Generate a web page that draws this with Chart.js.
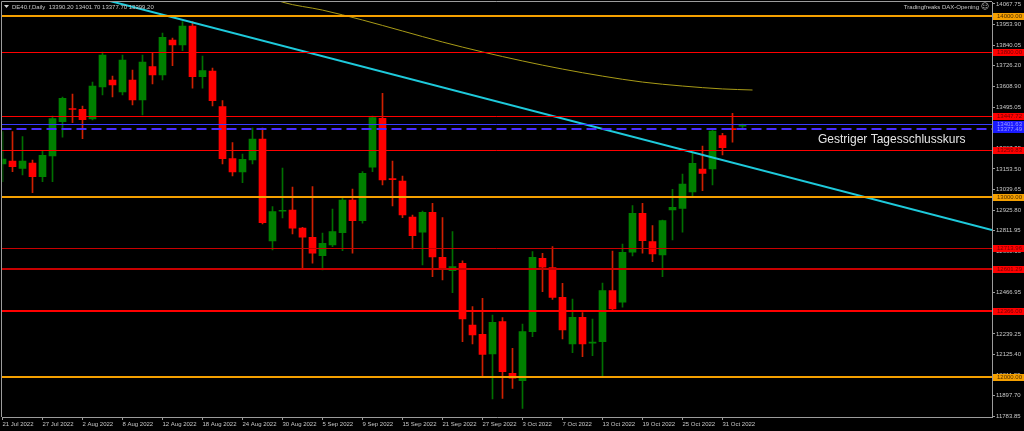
<!DOCTYPE html>
<html>
<head>
<meta charset="utf-8">
<title>DE40.f Daily</title>
<script src="https://cdn.jsdelivr.net/npm/chart.js@4.4.1/dist/chart.umd.min.js"></script>
<style>
  html, body { margin: 0; padding: 0; background: #000; }
  canvas { display: block; }
</style>
</head>
<body>
<canvas id="chart" width="1024" height="431"></canvas>
<script>
"use strict";

// daily candles, 21 Jul 2022 .. 2 Nov 2022 (index = trading day)
const opens = [13180.9, 13197.5, 13157.0, 13186.4, 13110.5, 13225.2, 13415.4, 13485.0, 13484.1, 13430.3,
  13607.7, 13646.5, 13580.0, 13646.5, 13535.6, 13720.2, 13674.2, 13868.2, 13840.5, 13945.8,
  13664.8, 13696.4, 13498.5, 13210.3, 13136.5, 13203.0, 13319.4, 12754.1, 12919.0, 12925.9,
  12826.1, 12774.6, 12672.6, 12731.9, 12800.1, 12981.3, 12866.6, 13162.6, 13434.2, 13098.0,
  13086.7, 12887.1, 12802.3, 12913.2, 12663.7, 12589.4, 12630.5, 12288.5, 12236.8, 12127.7,
  12306.8, 12020.7, 11979.7, 12251.4, 12658.2, 12606.1, 12442.0, 12183.2, 12331.1, 12188.0,
  12195.9, 12478.6, 12414.3, 12691.5, 12907.6, 12750.2, 12676.5, 12925.9, 12935.3, 13025.7,
  13153.2, 13153.2, 13337.7, 13375.0, 13390.2];
const highs = [13359.9, 13359.9, 13332.2, 13203.0, 13252.9, 13446.9, 13552.2, 13568.9, 13502.4, 13635.4,
  13801.7, 13668.6, 13785.0, 13701.9, 13785.0, 13796.2, 13907.0, 13879.3, 13969.6, 13969.6,
  13779.5, 13713.0, 13531.7, 13299.0, 13236.3, 13380.4, 13380.4, 12944.2, 13158.7, 13053.4,
  12830.0, 13055.1, 12798.4, 12931.4, 12992.4, 13042.3, 13138.2, 13446.9, 13572.8, 13197.5,
  13114.4, 12898.2, 12920.4, 12963.0, 12883.2, 12805.6, 12644.8, 12389.9, 12436.5, 12343.9,
  12328.9, 12159.3, 12294.0, 12694.8, 12685.9, 12722.5, 12519.6, 12432.6, 12356.6, 12321.7,
  12521.3, 12698.6, 12737.4, 12949.7, 12963.0, 12838.9, 12870.5, 13040.6, 13125.4, 13240.2,
  13280.6, 13373.2, 13351.0, 13461.9, 13401.7];
const lows = [13082.8, 13138.2, 13119.9, 13021.8, 13082.8, 13082.8, 13328.9, 13409.8, 13321.1, 13425.0,
  13563.3, 13552.2, 13563.3, 13507.9, 13452.5, 13624.3, 13646.5, 13725.8, 13808.9, 13600.5,
  13600.5, 13502.4, 13180.9, 13114.4, 13077.2, 13180.9, 12848.3, 12704.2, 12881.6, 12792.9,
  12604.4, 12630.5, 12593.3, 12722.5, 12700.3, 12685.9, 12852.2, 13138.2, 13064.5, 12948.0,
  12883.2, 12709.7, 12621.0, 12556.2, 12537.9, 12467.5, 12195.9, 12183.2, 12001.9, 11878.3,
  11882.1, 11937.6, 11826.7, 12223.6, 12473.0, 12430.9, 12210.9, 12134.9, 12112.7, 12118.2,
  12001.9, 12371.6, 12386.6, 12670.9, 12685.9, 12639.3, 12556.2, 12759.6, 12802.3, 12999.6,
  13032.9, 13064.5, 13230.8, 13301.2, 13377.7];
const closes = [13208.6, 13165.9, 13197.5, 13110.5, 13229.1, 13432.0, 13545.0, 13483.0, 13426.5, 13613.2,
  13785.0, 13618.8, 13757.3, 13535.6, 13746.2, 13674.2, 13883.2, 13840.5, 13945.8, 13664.8,
  13698.0, 13531.7, 13210.3, 13136.5, 13206.9, 13319.4, 12855.5, 12916.5, 12921.0, 12824.5,
  12774.6, 12685.9, 12741.3, 12805.6, 12981.3, 12866.6, 13129.3, 13437.5, 13092.2, 13094.0,
  12898.2, 12783.5, 12913.2, 12665.4, 12597.2, 12612.7, 12321.7, 12233.0, 12126.0, 12303.5,
  12029.6, 11993.1, 12251.4, 12663.7, 12608.3, 12442.0, 12260.7, 12331.1, 12183.2, 12192.0,
  12478.6, 12377.1, 12691.5, 12907.6, 12755.7, 12682.0, 12866.6, 12940.9, 13070.0, 13184.7,
  13129.3, 13363.8, 13271.2, 13371.0, 13399.2];

// bottom axis: one label every 4 trading days
const dateLabels = ['21 Jul 2022', '27 Jul 2022', '2 Aug 2022', '8 Aug 2022', '12 Aug 2022', '18 Aug 2022',
  '24 Aug 2022', '30 Aug 2022', '5 Sep 2022', '9 Sep 2022', '15 Sep 2022', '21 Sep 2022', '27 Sep 2022',
  '3 Oct 2022', '7 Oct 2022', '13 Oct 2022', '19 Oct 2022', '25 Oct 2022', '31 Oct 2022'];
const labelStep = 4;

// price scale labels on the right
const priceTicks = [14067.75, 13953.90, 13840.05, 13726.20, 13608.90, 13495.05, 13381.20, 13267.35,
  13153.50, 13039.65, 12925.80, 12811.95, 12698.10, 12584.25, 12466.95, 12353.10, 12239.25,
  12125.40, 12011.55, 11897.70, 11783.85];

// horizontal levels (orange = round numbers, red = zones, blue = yesterday's close)
const levelValues = [14000.00, 13800.00, 13447.72, 13401.63, 13377.49, 13259.83, 13000.00,
  12713.96, 12601.29, 12366.00, 12000.00];

// moving average, sampled
const maDays = [27, 28, 32, 36, 40, 44, 48, 52, 56, 60, 64, 68, 72, 75];
const maValues = [14100, 14078, 14034, 13979, 13918, 13857, 13802, 13752, 13707, 13668, 13635, 13613, 13597, 13591];

// downtrend line
const trendDays = [10, 98.95];
const trendValues = [14095, 12815];

const noteText = 'Gestriger Tagesschlusskurs';

// ---- looks ----
const ORANGE = '#f5a000', RED = '#ff0000', DARKRED = '#c80000';
const levelLook = [
  { line: ORANGE, width: 2, box: ORANGE, text: '#4a2a00' },
  { line: RED, width: 1, box: RED, text: '#700000' },
  { line: RED, width: 1, box: RED, text: '#700000' },
  { line: '#3a3aff', width: 1, box: '#1a1aff', text: '#9a9aff' },
  { line: '#4a2cff', width: 2, box: '#1a1aff', text: '#9a9aff', dash: [10, 5] },
  { line: RED, width: 1, box: RED, text: '#700000' },
  { line: ORANGE, width: 2, box: ORANGE, text: '#4a2a00' },
  { line: DARKRED, width: 1, box: RED, text: '#700000' },
  { line: DARKRED, width: 2, box: RED, text: '#700000' },
  { line: RED, width: 2, box: RED, text: '#700000' },
  { line: ORANGE, width: 2, box: ORANGE, text: '#4a2a00' },
];

const days = opens.map((_, i) => i);
const bull = days.map(i => closes[i] >= opens[i]);
const X_MAX = 98.95;

// level lines, snapped to whole pixels so they stay crisp
const levelLines = {
  id: 'levelLines',
  afterDatasetsDraw(chart) {
    const { ctx, chartArea: area } = chart;
    const yScale = chart.scales.y;
    ctx.save();
    ctx.beginPath();
    ctx.rect(area.left - 1, area.top, area.right - area.left + 1, area.bottom - area.top);
    ctx.clip();
    levelValues.forEach((v, i) => {
      const look = levelLook[i];
      const px = Math.round(yScale.getPixelForValue(v)) + (look.width % 2 ? 0.5 : 0);
      ctx.strokeStyle = look.line;
      ctx.lineWidth = look.width;
      ctx.setLineDash(look.dash || []);
      ctx.beginPath();
      ctx.moveTo(area.left - 1, px);
      ctx.lineTo(area.right, px);
      ctx.stroke();
    });
    ctx.restore();
  }
};

const overlay = {
  id: 'overlay',
  afterDraw(chart) {
    const { ctx, chartArea: area } = chart;
    const yScale = chart.scales.y;
    ctx.save();

    // frame top/left
    ctx.strokeStyle = '#9c9c9c';
    ctx.lineWidth = 1;
    ctx.beginPath();
    ctx.moveTo(area.left - 1, area.bottom);
    ctx.lineTo(area.left - 1, area.top - 0.5);
    ctx.lineTo(area.right, area.top - 0.5);
    ctx.stroke();

    // price boxes for the levels
    ctx.font = '6px "Liberation Sans"';
    ctx.textBaseline = 'middle';
    ctx.textAlign = 'left';
    levelValues.forEach((v, i) => {
      const py = Math.round(yScale.getPixelForValue(v));
      ctx.fillStyle = levelLook[i].box;
      ctx.fillRect(area.right + 1, py - 3, 1024 - area.right, 7);
      ctx.fillStyle = levelLook[i].text;
      ctx.fillText(v.toFixed(2), area.right + 5, py + 0.5);
    });

    // header
    const last = opens.length - 1;
    ctx.fillStyle = '#d0d0d0';
    ctx.beginPath();
    ctx.moveTo(4, 5); ctx.lineTo(9, 5); ctx.lineTo(6.5, 8); ctx.closePath();
    ctx.fill();
    ctx.fillStyle = '#c8c8c8';
    ctx.fillText('DE40.f,Daily  ' + [opens[last], highs[last], lows[last], closes[last]].map(v => v.toFixed(2)).join(' '), 12, 7);
    ctx.textAlign = 'right';
    ctx.fillText('Tradingfreaks DAX-Opening', 979, 7);
    ctx.font = '8px "DejaVu Sans"';
    ctx.textAlign = 'left';
    ctx.fillText('\u263A', 981, 7);

    // note
    ctx.font = '12px "Liberation Sans"';
    ctx.textBaseline = 'alphabetic';
    ctx.fillStyle = '#e6e6e6';
    ctx.fillText(noteText, 818, 143);
    ctx.restore();
  }
};

const noPad = s => { s.paddingLeft = 0; s.paddingRight = 0; s.paddingTop = 0; s.paddingBottom = 0; };

new Chart(document.getElementById('chart'), {
  type: 'bar',
  data: {
    datasets: [
      {
        type: 'line',
        data: trendDays.map((d, i) => ({ x: d, y: trendValues[i] })),
        borderColor: '#1ecadc',
        borderWidth: 2,
        pointRadius: 0,
        order: 0,
      },
      {
        type: 'line',
        data: maDays.map((d, i) => ({ x: d, y: maValues[i] })),
        borderColor: '#a89b17',
        borderWidth: 1,
        pointRadius: 0,
        cubicInterpolationMode: 'monotone',
        order: 1,
      },
      {
        // candle bodies
        data: days.map(i => ({ x: i, y: [opens[i], closes[i]] })),
        backgroundColor: days.map(i => bull[i] ? '#008000' : '#ff0000'),
        borderWidth: 0,
        grouped: false,
        barPercentage: 1,
        categoryPercentage: 1,
        maxBarThickness: 7,
        minBarLength: 1,
        order: 10,
      },
      {
        // wicks
        data: days.map(i => ({ x: i, y: [lows[i], highs[i]] })),
        backgroundColor: days.map(i => bull[i] ? '#007000' : '#d02000'),
        borderWidth: 0,
        grouped: false,
        barPercentage: 1,
        categoryPercentage: 1,
        maxBarThickness: 1,
        order: 11,
      },
    ],
  },
  options: {
    responsive: false,
    animation: false,
    devicePixelRatio: 1,
    events: [],
    layout: { padding: { left: 2.5, top: 2, right: 0, bottom: 0 } },
    plugins: { legend: { display: false }, tooltip: { enabled: false } },
    scales: {
      x: {
        type: 'linear',
        min: 0,
        max: X_MAX,
        offset: false,
        grid: { drawOnChartArea: false, drawTicks: true, tickLength: 3, color: '#9c9c9c', offset: false },
        border: { color: '#9c9c9c' },
        ticks: {
          autoSkip: false,
          maxRotation: 0,
          align: 'start',
          padding: 1,
          color: '#c8c8c8',
          font: { family: 'Liberation Sans', size: 6 },
          callback: v => dateLabels[v / labelStep],
        },
        afterBuildTicks: s => { s.ticks = dateLabels.map((_, i) => ({ value: i * labelStep })); },
        afterFit: s => { s.height = 14; noPad(s); },
      },
      y: {
        type: 'linear',
        position: 'right',
        min: 11778.5,
        max: 14078.8,
        grid: { drawOnChartArea: false, drawTicks: true, tickLength: 3, color: '#9c9c9c' },
        border: { color: '#9c9c9c' },
        ticks: {
          autoSkip: false,
          padding: 1,
          color: '#c8c8c8',
          font: { family: 'Liberation Sans', size: 6 },
          callback: v => Number(v).toFixed(2),
        },
        afterBuildTicks: s => { s.ticks = priceTicks.map(v => ({ value: v })); },
        afterFit: s => { s.width = 32; noPad(s); },
      },
    },
  },
  plugins: [levelLines, overlay],
});
</script>
</body>
</html>
